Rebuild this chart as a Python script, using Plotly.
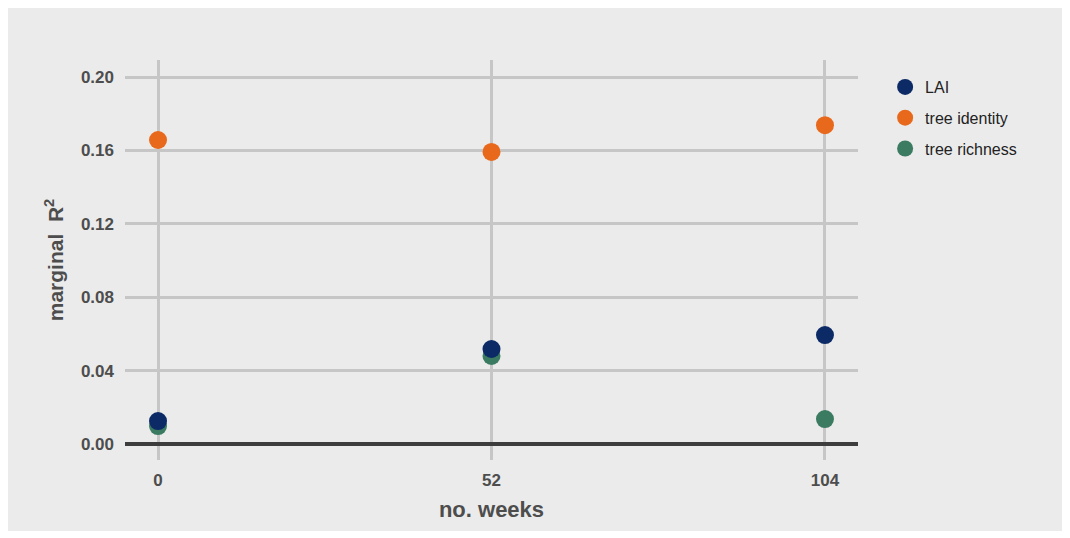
import plotly.graph_objects as go

weeks = [0, 52, 104]
series_names = ["LAI", "tree identity", "tree richness"]
lai = [0.0125, 0.0518, 0.0594]
tree_identity = [0.1657, 0.1592, 0.1738]
tree_richness = [0.0098, 0.0480, 0.0136]
colors = ["#0b2a66", "#e8691b", "#3b7b62"]
y_ticks = [0.00, 0.04, 0.08, 0.12, 0.16, 0.20]
x_ticks = [0, 52, 104]

FONT = "Liberation Sans, Arial, sans-serif"

fig = go.Figure()
series = list(zip(series_names, [lai, tree_identity, tree_richness], colors))
# draw in reverse so LAI sits on top; legend order set by legendrank
for rank, (name, vals, col) in reversed(list(enumerate(series))):
    fig.add_trace(go.Scatter(x=weeks, y=vals, mode="markers", name=name,
                             legendrank=rank + 1, legendgroup=name,
                             marker=dict(size=18, color=col, line=dict(width=0))))

fig.update_layout(
    width=1055, height=523,
    margin=dict(l=117, r=205, t=52, b=71),
    paper_bgcolor="#ebebeb", plot_bgcolor="#ebebeb",
    font=dict(family=FONT, color="#4d4d4d"),
    showlegend=True,
    legend=dict(x=1.037, y=0.975, xanchor="left", yanchor="top",
                tracegroupgap=7,
                font=dict(size=16, color="#222222"), bgcolor="rgba(0,0,0,0)"),
)
fig.update_xaxes(range=[-5.15, 109.15], tickvals=x_ticks, ticktext=[str(t) for t in x_ticks],
                 showgrid=True, gridcolor="#c6c6c6", gridwidth=2.5, zeroline=False,
                 showline=False, ticks="", ticklabelstandoff=8,
                 tickfont=dict(size=17, color="#4d4d4d", family=FONT, weight="bold"),
                 title=dict(text="<b>no. weeks</b>", font=dict(size=22, color="#4d4d4d"), standoff=12))
fig.update_yaxes(range=[-0.0087, 0.2093], tickvals=y_ticks, tickformat=".2f",
                 showgrid=True, gridcolor="#c6c6c6", gridwidth=2.5,
                 zeroline=True, zerolinecolor="#3d3d3d", zerolinewidth=4,
                 showline=False, ticks="", ticklabelstandoff=10,
                 tickfont=dict(size=17, color="#4d4d4d", family=FONT, weight="bold"),
                 title=dict(text="<b>marginal\u00a0 R<sup>2</sup></b>", font=dict(size=21, color="#4d4d4d"), standoff=11))

fig.write_html("out.html")
